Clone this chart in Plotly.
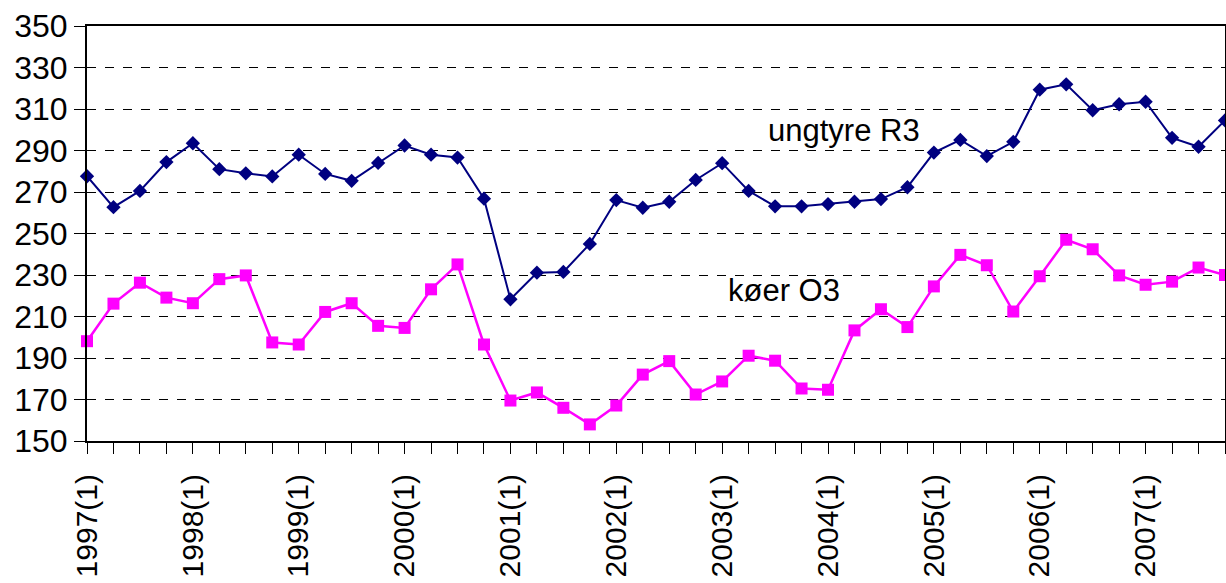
import plotly.graph_objects as go

quarters = [f"{y}({q})" for y in range(1997, 2008) for q in range(1, 5)]
tick_labels = ["1997(1)", "1998(1)", "1999(1)", "2000(1)", "2001(1)", "2002(1)",
               "2003(1)", "2004(1)", "2005(1)", "2006(1)", "2007(1)"]

ungtyre_r3 = [277.6, 262.7, 270.5, 284.4, 293.5, 281.0, 279.0, 277.5, 288.0, 278.7, 275.4,
              284.0, 292.4, 288.0, 286.6, 266.8, 218.3, 231.1, 231.5, 245.0, 266.1, 262.4,
              265.3, 275.8, 283.9, 270.5, 263.1, 263.1, 264.2, 265.3, 266.6, 272.3, 289.0,
              295.1, 287.3, 294.2, 319.3, 321.9, 309.4, 312.3, 313.5, 296.1, 291.8, 304.5]
koer_o3 = [198.1, 216.2, 226.3, 219.1, 216.4, 228.0, 229.8, 197.5, 196.5, 212.2, 216.4,
           205.5, 204.5, 223.1, 235.1, 196.5, 169.5, 173.4, 166.0, 158.0, 167.1, 182.0,
           188.5, 172.4, 178.7, 191.1, 188.7, 175.3, 174.7, 203.3, 213.5, 204.9, 224.5,
           239.7, 234.7, 212.4, 229.4, 247.0, 242.4, 229.8, 225.3, 226.8, 233.6, 230.0]

xi = list(range(len(quarters)))
ticktext = [q if q in tick_labels else "" for q in quarters]

FONT = "Liberation Sans, Arial, sans-serif"

fig = go.Figure()
fig.add_trace(go.Scatter(
    x=xi, y=ungtyre_r3, mode="lines+markers", name="ungtyre R3",
    line=dict(color="#000080", width=2),
    marker=dict(symbol="diamond", size=11, color="#000080"),
    cliponaxis=False))
fig.add_trace(go.Scatter(
    x=xi, y=koer_o3, mode="lines+markers", name="køer O3",
    line=dict(color="#FF00FF", width=2.5),
    marker=dict(symbol="square", size=12, color="#FF00FF"),
    cliponaxis=False))

fig.add_annotation(x=28.6, y=299.5, text="ungtyre R3", showarrow=False,
                   xanchor="center", yanchor="middle",
                   font=dict(family=FONT, size=31, color="black"))
fig.add_annotation(x=26.35, y=222.3, text="køer O3", showarrow=False,
                   xanchor="center", yanchor="middle",
                   font=dict(family=FONT, size=31, color="black"))

fig.update_layout(
    width=1226, height=583,
    margin=dict(l=87, r=1, t=26, b=142, autoexpand=False),
    paper_bgcolor="white", plot_bgcolor="white",
    showlegend=False,
    font=dict(family=FONT, size=31, color="black"),
    xaxis=dict(
        range=[0, 43], tickmode="array", tickvals=xi, ticktext=ticktext,
        tickangle=-90, ticks="outside", ticklen=11, tickcolor="black", tickwidth=1,
        showgrid=False, zeroline=False, automargin=False,
        showline=True, linecolor="black", linewidth=2, mirror=True,
        ticklabelstandoff=8,
        tickfont=dict(family=FONT, size=30, color="black")),
    yaxis=dict(
        range=[150, 350], dtick=20, tick0=150,
        ticks="outside", ticklen=11, tickcolor="black", tickwidth=1,
        showgrid=True, gridcolor="black", gridwidth=1, griddash="dash",
        zeroline=False, automargin=False,
        showline=True, linecolor="black", linewidth=2, mirror=True,
        tickfont=dict(family=FONT, size=32, color="black")),
)

fig.write_html("out.html", config={"displayModeBar": False},
               post_script="document.body.style.margin='0';document.body.style.overflow='hidden';")
